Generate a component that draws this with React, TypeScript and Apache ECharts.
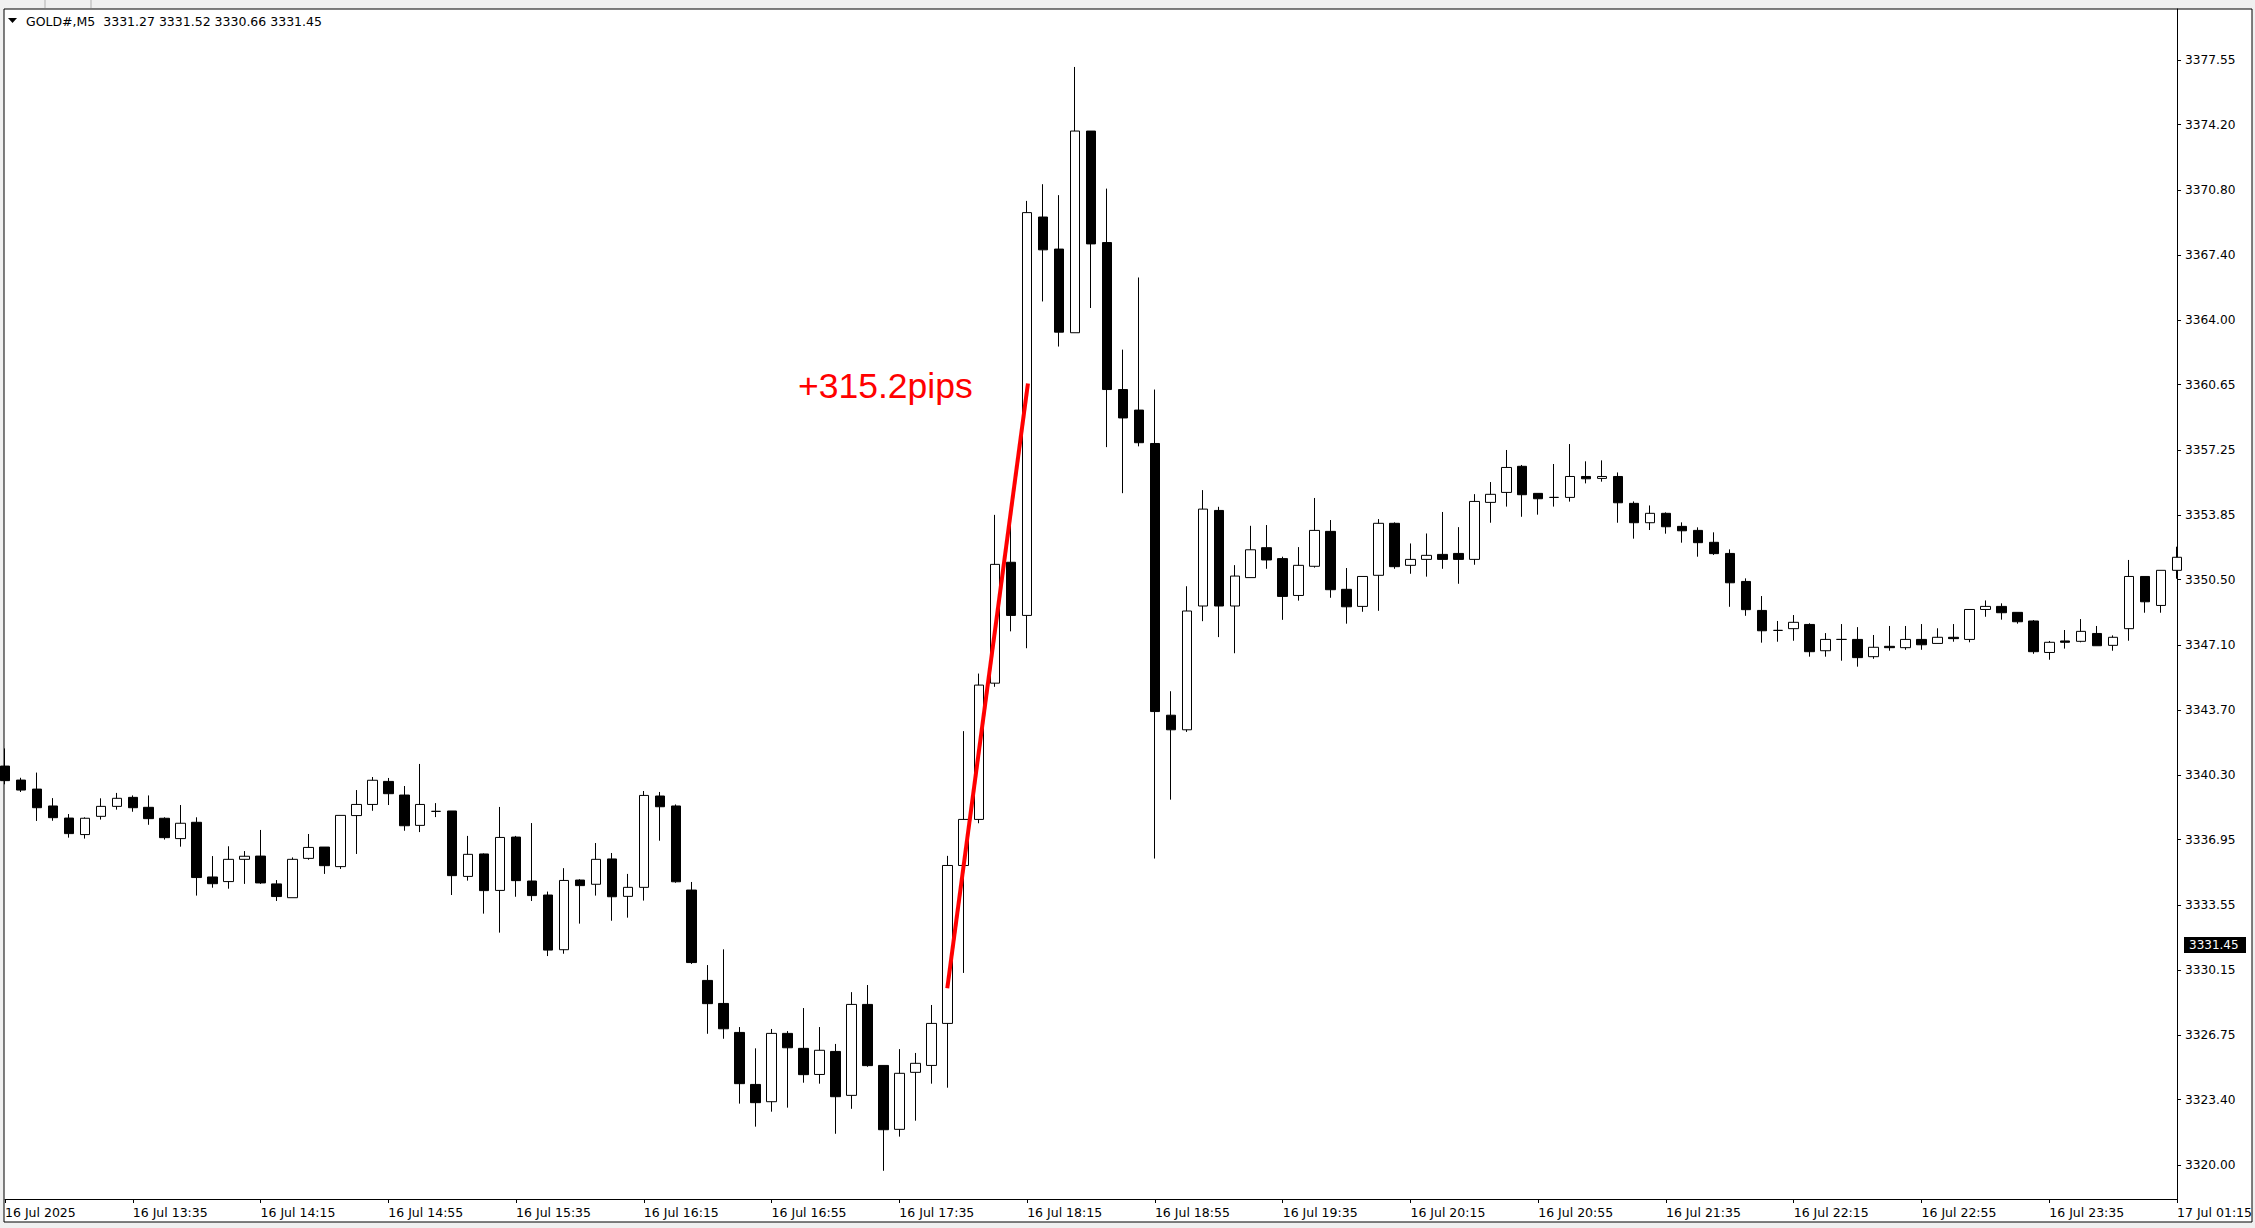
import React, { useEffect, useRef } from "react";
import * as echarts from "echarts";

// ---- Data (GOLD#, M5) ----
const opens = [
  3340.78, 3340.05, 3339.58, 3338.70, 3338.07, 3337.21, 3338.16, 3338.68, 3339.15, 3338.63,
  3338.06, 3337.00, 3337.85, 3335.00, 3334.76, 3335.92, 3336.09, 3334.64, 3333.92, 3335.97,
  3336.56, 3335.54, 3338.20, 3338.78, 3339.98, 3339.27, 3337.69, 3338.42, 3338.44, 3335.03,
  3336.20, 3334.30, 3337.08, 3334.79, 3334.06, 3331.21, 3334.84, 3334.62, 3335.94, 3333.99,
  3334.46, 3339.22, 3338.70, 3334.32, 3329.61, 3328.41, 3326.90, 3324.19, 3323.29, 3326.85,
  3326.07, 3324.71, 3325.91, 3323.62, 3328.36, 3325.18, 3321.85, 3324.82, 3325.18, 3327.37,
  3335.60, 3338.00, 3345.10, 3351.40, 3348.63, 3369.39, 3367.72, 3363.36, 3373.87, 3368.06,
  3360.40, 3359.33, 3357.59, 3343.43, 3342.67, 3349.12, 3354.10, 3349.12, 3350.60, 3352.16,
  3351.59, 3349.67, 3351.19, 3353.01, 3349.99, 3349.10, 3350.72, 3353.43, 3351.24, 3351.55,
  3351.81, 3351.86, 3351.55, 3354.52, 3355.04, 3356.40, 3354.99, 3354.78, 3354.78, 3355.87,
  3355.77, 3355.87, 3354.47, 3353.46, 3353.95, 3353.27, 3353.06, 3352.44, 3351.86, 3350.40,
  3348.89, 3347.85, 3347.94, 3348.16, 3346.79, 3347.38, 3347.38, 3346.48, 3347.02, 3346.95,
  3347.38, 3347.17, 3347.49, 3347.38, 3348.94, 3349.10, 3348.79, 3348.34, 3346.70, 3347.30,
  3347.28, 3347.69, 3347.07, 3347.94, 3350.66, 3349.15, 3350.98,
];
const highs = [
  3341.70, 3340.17, 3340.44, 3339.11, 3338.28, 3338.11, 3339.10, 3339.38, 3339.25, 3339.25,
  3338.11, 3338.75, 3338.11, 3336.09, 3336.60, 3336.35, 3337.45, 3334.84, 3336.02, 3337.24,
  3336.56, 3338.21, 3339.53, 3340.21, 3340.16, 3339.74, 3340.89, 3338.85, 3338.44, 3337.14,
  3336.23, 3338.65, 3337.14, 3337.81, 3334.24, 3335.46, 3334.88, 3336.77, 3336.25, 3335.16,
  3339.48, 3339.43, 3338.78, 3334.74, 3330.41, 3331.23, 3327.18, 3326.07, 3327.08, 3326.97,
  3328.17, 3327.18, 3326.30, 3329.00, 3329.37, 3325.18, 3326.03, 3325.83, 3328.33, 3336.10,
  3342.60, 3345.60, 3353.87, 3353.80, 3370.23, 3371.10, 3370.53, 3377.21, 3373.87, 3370.87,
  3362.48, 3366.24, 3360.40, 3344.68, 3350.15, 3355.16, 3354.29, 3351.25, 3353.30, 3353.34,
  3351.69, 3352.19, 3354.75, 3353.60, 3351.10, 3350.66, 3353.65, 3353.48, 3352.38, 3352.90,
  3354.02, 3353.23, 3354.95, 3355.58, 3357.25, 3356.47, 3354.99, 3356.52, 3357.56, 3356.66,
  3356.71, 3356.08, 3354.57, 3354.36, 3354.00, 3353.48, 3353.22, 3352.96, 3352.07, 3350.56,
  3349.64, 3348.34, 3348.65, 3348.22, 3347.71, 3348.18, 3348.02, 3347.61, 3348.08, 3348.08,
  3348.18, 3347.96, 3348.18, 3348.94, 3349.41, 3349.26, 3348.79, 3348.39, 3347.30, 3347.87,
  3348.44, 3348.08, 3347.59, 3351.52, 3350.66, 3350.98, 3352.21,
];
const lows = [
  3339.83, 3339.43, 3337.92, 3337.93, 3337.05, 3337.00, 3337.99, 3338.51, 3338.40, 3337.72,
  3336.95, 3336.58, 3334.03, 3334.44, 3334.39, 3334.64, 3334.64, 3333.75, 3333.92, 3335.90,
  3335.16, 3335.42, 3336.20, 3338.45, 3338.75, 3337.41, 3337.34, 3338.12, 3334.06, 3334.81,
  3333.09, 3332.10, 3333.97, 3333.75, 3330.88, 3331.00, 3332.57, 3334.03, 3332.72, 3332.88,
  3333.77, 3336.89, 3334.70, 3330.47, 3326.83, 3326.57, 3323.19, 3321.99, 3322.77, 3322.98,
  3324.28, 3324.23, 3321.62, 3322.92, 3325.11, 3319.69, 3321.47, 3322.30, 3324.23, 3324.02,
  3330.00, 3337.80, 3344.91, 3347.80, 3346.92, 3364.99, 3362.64, 3363.36, 3364.65, 3357.40,
  3355.00, 3357.44, 3335.96, 3339.03, 3342.56, 3348.33, 3347.50, 3346.66, 3350.60, 3351.06,
  3348.40, 3349.40, 3351.12, 3349.55, 3348.20, 3348.82, 3348.87, 3351.06, 3350.80, 3350.65,
  3351.06, 3350.28, 3351.27, 3353.46, 3354.30, 3353.77, 3353.88, 3354.30, 3354.56, 3355.51,
  3355.60, 3353.46, 3352.63, 3353.08, 3352.89, 3352.42, 3351.69, 3351.78, 3349.08, 3348.61,
  3347.21, 3347.26, 3347.31, 3346.48, 3346.48, 3346.27, 3345.96, 3346.37, 3346.79, 3346.84,
  3346.84, 3347.17, 3347.26, 3347.23, 3348.56, 3348.41, 3348.20, 3346.63, 3346.32, 3346.90,
  3347.23, 3347.05, 3346.79, 3347.31, 3348.77, 3348.77, 3350.54,
];
const closes = [
  3340.02, 3339.53, 3338.61, 3338.09, 3337.26, 3338.06, 3338.68, 3339.10, 3338.61, 3338.04,
  3337.05, 3337.80, 3334.97, 3334.65, 3335.92, 3336.08, 3334.69, 3333.98, 3335.92, 3336.54,
  3335.59, 3338.21, 3338.78, 3340.04, 3339.34, 3337.67, 3338.78, 3338.42, 3335.07, 3336.18,
  3334.29, 3337.06, 3334.81, 3334.03, 3331.19, 3334.82, 3334.55, 3335.92, 3333.97, 3334.46,
  3339.25, 3338.66, 3334.75, 3330.54, 3328.40, 3327.09, 3324.23, 3323.24, 3326.85, 3326.10,
  3324.70, 3325.97, 3323.55, 3328.36, 3325.17, 3321.83, 3324.77, 3325.29, 3327.37, 3335.60,
  3338.00, 3345.00, 3351.29, 3348.63, 3369.62, 3367.68, 3363.39, 3373.87, 3367.99, 3360.40,
  3358.92, 3357.63, 3343.62, 3342.67, 3348.86, 3354.17, 3349.12, 3350.68, 3352.05, 3351.52,
  3349.62, 3351.24, 3353.06, 3349.97, 3349.08, 3350.66, 3353.43, 3351.17, 3351.55, 3351.76,
  3351.55, 3351.55, 3354.57, 3354.94, 3356.34, 3354.92, 3354.71, 3354.78, 3355.87, 3355.75,
  3355.87, 3354.50, 3353.46, 3353.95, 3353.25, 3353.04, 3352.42, 3351.85, 3350.33, 3348.93,
  3347.83, 3347.85, 3348.27, 3346.74, 3347.38, 3347.38, 3346.43, 3346.97, 3346.95, 3347.38,
  3347.10, 3347.49, 3347.42, 3348.94, 3349.10, 3348.77, 3348.30, 3346.74, 3347.23, 3347.23,
  3347.80, 3347.05, 3347.49, 3350.66, 3349.34, 3350.98, 3351.66,
];

const priceTicks = [
  3320.0, 3323.4, 3326.75, 3330.15, 3333.55, 3336.95, 3340.3, 3343.7, 3347.1,
  3350.5, 3353.85, 3357.25, 3360.65, 3364.0, 3367.4, 3370.8, 3374.2, 3377.55,
];
const timeTickLabels = [
  "16 Jul 2025", "16 Jul 13:35", "16 Jul 14:15", "16 Jul 14:55", "16 Jul 15:35",
  "16 Jul 16:15", "16 Jul 16:55", "16 Jul 17:35", "16 Jul 18:15", "16 Jul 18:55",
  "16 Jul 19:35", "16 Jul 20:15", "16 Jul 20:55", "16 Jul 21:35", "16 Jul 22:15",
  "16 Jul 22:55", "16 Jul 23:35", "17 Jul 01:15",
];
const TICK_EVERY = 8;
const headerText = "GOLD#,M5  3331.27 3331.52 3330.66 3331.45";
const currentPrice = 3331.45;
const moveLabel = "+315.2pips";
// trend line endpoints: [bar index, price]
const moveLine = [
  [59, 3329.2],
  [64.05, 3360.72],
];

// time axis categories (M5 bars, market break 00:00-00:55)
const categories: string[] = [];
{
  let m = 12 * 60 + 55;
  while (categories.length < opens.length) {
    const day = m >= 1440 ? 17 : 16;
    const mm = m % 1440;
    const hh = Math.floor(mm / 60);
    const mi = mm % 60;
    if (day === 17 && hh === 0) {
      m += 5;
      continue;
    }
    categories.push(`${day} Jul ${String(hh).padStart(2, "0")}:${String(mi).padStart(2, "0")}`);
    m += 5;
  }
}
const labelMap = new Map<string, string>();
categories.forEach((c, i) => {
  if (i % TICK_EVERY === 0) labelMap.set(c, timeTickLabels[i / TICK_EVERY] ?? "");
});

const W = 2255;
const H = 1228;
const G_LEFT = 5;
const G_TOP = 9;
const G_W = 2176;
const G_H = 1190;
const Y_MIN = 3318.22;
const Y_MAX = 3380.23;

export default function App() {
  const ref = useRef<HTMLDivElement>(null);
  useEffect(() => {
    document.body.style.margin = "0";
    if (!ref.current) return;
    const chart = echarts.init(ref.current, null, { renderer: "svg" });
    const yCur = G_TOP + ((Y_MAX - currentPrice) / (Y_MAX - Y_MIN)) * G_H;
    const font = "DejaVu Sans";
    chart.setOption({
      animation: false,
      backgroundColor: "#f0f0f0",
      grid: { left: G_LEFT, top: G_TOP, width: G_W, height: G_H, show: false },
      xAxis: [
        {
          type: "category",
          data: categories,
          boundaryGap: false,
          axisLine: { show: true, onZero: false, lineStyle: { color: "#000", width: 1 } },
          axisTick: {
            show: true,
            interval: (i: number) => i % TICK_EVERY === 0,
            length: 4,
            lineStyle: { color: "#000" },
          },
          axisLabel: {
            interval: (i: number) => i % TICK_EVERY === 0,
            formatter: (v: string) => labelMap.get(v) ?? "",
            align: "left",
            margin: 7,
            color: "#000",
            fontFamily: font,
            fontSize: 12.5,
          },
          splitLine: { show: false },
        },
        {
          type: "value",
          min: 0,
          max: categories.length - 1,
          show: false,
          axisLine: { onZero: false },
        },
      ],
      yAxis: {
        type: "value",
        position: "right",
        min: Y_MIN,
        max: Y_MAX,
        scale: true,
        axisLine: { show: true, onZero: false, lineStyle: { color: "#000", width: 1 } },
        axisTick: { show: true, length: 4, customValues: priceTicks, lineStyle: { color: "#000" } },
        axisLabel: {
          customValues: priceTicks,
          formatter: (v: number) => v.toFixed(2),
          margin: 8,
          color: "#000",
          fontFamily: font,
          fontSize: 12.2,
        },
        splitLine: { show: false },
      },
      graphic: [
        { type: "rect", z: -10, shape: { x: 4, y: 9, width: 2248, height: 1213 }, style: { fill: "#fff", stroke: "#000", lineWidth: 1 } },
        { type: "line", shape: { x1: 45, y1: 0, x2: 45, y2: 8 }, style: { stroke: "#b0b0b0" } },
        { type: "line", shape: { x1: 91, y1: 0, x2: 91, y2: 8 }, style: { stroke: "#b0b0b0" } },
        { type: "polygon", shape: { points: [[8, 18], [17, 18], [12.5, 23]] }, style: { fill: "#000" } },
        { type: "text", x: 26, y: 21, style: { text: headerText, fill: "#000", font: `12.5px "${font}"`, textVerticalAlign: "middle" } },
        { type: "text", x: 798, y: 386, style: { text: moveLabel, fill: "#ff0000", font: '35.5px "Liberation Sans"', textVerticalAlign: "middle" } },
        { type: "rect", shape: { x: 2184, y: yCur - 8, width: 62, height: 16 }, style: { fill: "#000" } },
        { type: "text", x: 2189, y: yCur, style: { text: currentPrice.toFixed(2), fill: "#fff", font: `12px "${font}"`, textVerticalAlign: "middle" } },
      ],
      series: [
        {
          type: "candlestick",
          data: opens.map((o, i) => [o, closes[i], lows[i], highs[i]]),
          barWidth: 10,
          clip: true,
          itemStyle: {
            color: "#fff",
            color0: "#000",
            borderColor: "#000",
            borderColor0: "#000",
            borderColorDoji: "#000",
            borderWidth: 1,
          },
          silent: true,
        },
        {
          type: "line",
          xAxisIndex: 1,
          data: moveLine,
          symbol: "none",
          silent: true,
          z: 5,
          lineStyle: { color: "#ff0000", width: 4 },
        },
      ],
    });
    return () => chart.dispose();
  }, []);
  return <div ref={ref} style={{ width: W, height: H }} />;
}
